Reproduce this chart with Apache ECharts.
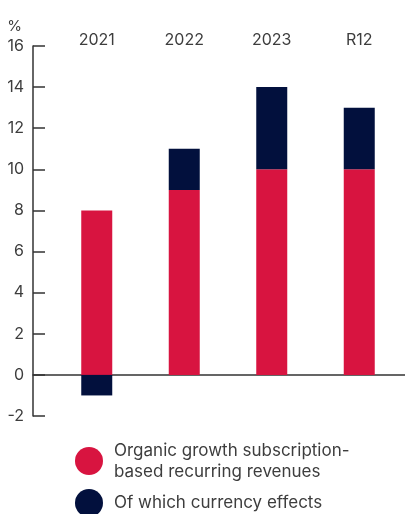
<!DOCTYPE html>
<html>
<head>
<meta charset="utf-8">
<script src="https://cdn.jsdelivr.net/npm/echarts@6/dist/echarts.min.js"></script>
<style>html,body{margin:0;padding:0;background:#fff}#c{width:405px;height:514px}</style>
</head>
<body>
<div id="c"></div>
<script>
const categories = ['2021', '2022', '2023', 'R12'];
const organic = [8, 9, 10, 10];
const currency = [-1, 2, 4, 3];
const yTicks = { min: -2, max: 16, interval: 2 };
const seriesNames = ['Organic growth subscription-\nbased recurring revenues', 'Of which currency effects'];

const txt = '#3d3d3d';
const axisCol = '#333';
const legendBase = {
  orient: 'vertical', left: 75, itemWidth: 28, itemHeight: 28, padding: 0,
  icon: 'circle', selectedMode: false,
  textStyle: { color: txt, fontSize: 17, lineHeight: 21, fontFamily: 'Inter', padding: [0, 0, 0, 6] }
};
const chart = echarts.init(document.getElementById('c'));
chart.setOption({
  animation: false,
  textStyle: { fontFamily: 'Inter' },
  grid: [
    { left: 33, right: 0, top: 46, bottom: 98 },
    { left: 53, right: 2, top: 46, bottom: 98 }
  ],
  xAxis: [
    { gridIndex: 0, type: 'category', data: categories, axisLine: { onZero: true, lineStyle: { color: axisCol, width: 1.5 } },
      axisTick: { show: false }, axisLabel: { show: false }, splitLine: { show: false } },
    { gridIndex: 1, type: 'category', data: categories, position: 'top', axisLine: { show: false },
      axisTick: { show: false }, axisLabel: { color: txt, fontSize: 16, margin: -2, fontFamily: 'Inter' } }
  ],
  yAxis: [
    { gridIndex: 0, type: 'value', min: yTicks.min, max: yTicks.max, interval: yTicks.interval,
      name: '%', nameLocation: 'end', nameGap: 12,
      nameTextStyle: { color: txt, fontSize: 15, align: 'right', padding: [0, 11, 0, 0], fontFamily: 'Inter' },
      axisLine: { show: true, onZero: false, lineStyle: { color: axisCol, width: 1.5 } },
      axisTick: { show: true, inside: true, length: 12, lineStyle: { color: axisCol, width: 1.5 } },
      axisLabel: { color: txt, fontSize: 16, margin: 9, fontFamily: 'Inter' },
      splitLine: { show: false } },
    { gridIndex: 1, type: 'value', min: yTicks.min, max: yTicks.max, interval: yTicks.interval, show: false }
  ],
  legend: [
    Object.assign({}, legendBase, { top: 440, data: [seriesNames[0]] }),
    Object.assign({}, legendBase, { top: 489, data: [seriesNames[1]] })
  ],
  series: [
    { name: seriesNames[0], type: 'bar', xAxisIndex: 1, yAxisIndex: 1, stack: 's', barWidth: 31,
      data: organic, itemStyle: { color: '#D81440' } },
    { name: seriesNames[1], type: 'bar', xAxisIndex: 1, yAxisIndex: 1, stack: 's', barWidth: 31,
      data: currency, itemStyle: { color: '#02103D' } }
  ]
});
</script>
</body>
</html>
